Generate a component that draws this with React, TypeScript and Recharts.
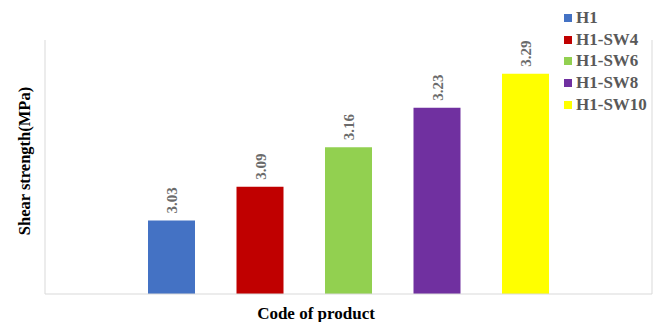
import React from "react";
import { BarChart, Bar, XAxis, YAxis, Legend, LabelList, CartesianGrid } from "recharts";

const categories = ["Code of product"];
const seriesNames = ["H1", "H1-SW4", "H1-SW6", "H1-SW8", "H1-SW10"];
const seriesValues = [3.03, 3.09, 3.16, 3.23, 3.29];
const seriesColors = ["#4472C4", "#C00000", "#92D050", "#7030A0", "#FFFF00"];
const yDomain = [2.9, 3.35];

const data = categories.map((name) => {
  const row: Record<string, string | number> = { name };
  seriesNames.forEach((s, i) => {
    row[s] = seriesValues[i];
  });
  return row;
});

const FONT = "'Liberation Serif', 'Times New Roman', serif";

const ValueLabel = (props: any) => {
  const { x, y, width, value } = props;
  const cx = x + width / 2 + 1;
  const ty = y - 7;
  return (
    <text
      x={cx}
      y={ty}
      transform={`rotate(-90, ${cx}, ${ty})`}
      textAnchor="start"
      dominantBaseline="central"
      fontFamily={FONT}
      fontWeight="bold"
      fontSize={15}
      fill="#6b6b6b"
    >
      {Number(value).toFixed(2)}
    </text>
  );
};

// keep legend entries in series order
const LegendList = (props: any) => {
  const { payload = [] } = props;
  const items = [...payload].sort(
    (a: any, b: any) => seriesNames.indexOf(a.value) - seriesNames.indexOf(b.value)
  );
  return (
    <div style={{ fontFamily: FONT, fontWeight: "bold", fontSize: 17, color: "#595959" }}>
      {items.map((p: any) => (
        <div key={p.value} style={{ display: "flex", alignItems: "center", height: 21.7 }}>
          <span style={{ width: 8, height: 8, background: p.color, marginRight: 4, display: "inline-block" }} />
          <span>{p.value}</span>
        </div>
      ))}
    </div>
  );
};

export default function App() {
  return (
    <div style={{ position: "absolute", left: 0, top: 0, background: "#fff" }}>
      <BarChart
        width={659}
        height={322}
        data={data}
        margin={{ top: 40, right: 7, bottom: 0, left: 0 }}
        barCategoryGap={103}
        barGap={41.5}
        barSize={47}
      >
        <CartesianGrid horizontal={false} verticalPoints={[652]} stroke="#d9d9d9" />
        <XAxis
          dataKey="name"
          tick={false}
          tickLine={false}
          axisLine={{ stroke: "#d9d9d9" }}
          height={28}
          label={{
            content: () => (
              <text x={316} y={313} textAnchor="middle" dominantBaseline="central" fontFamily={FONT} fontWeight="bold" fontSize={17} fill="#000">
                Code of product
              </text>
            ),
          }}
        />
        <YAxis
          domain={yDomain}
          allowDataOverflow
          tick={false}
          tickLine={false}
          axisLine={{ stroke: "#d9d9d9" }}
          width={45}
          label={{
            content: () => (
              <text
                x={24}
                y={161}
                transform="rotate(-90, 24, 161)"
                textAnchor="middle"
                dominantBaseline="central"
                fontFamily={FONT}
                fontWeight="bold"
                fontSize={16.5}
                fill="#000"
              >
                Shear strength(MPa)
              </text>
            ),
          }}
        />
        <Legend
          layout="vertical"
          align="center"
          verticalAlign="middle"
          content={<LegendList />}
          wrapperStyle={{ left: 564, top: 7, width: 95 }}
        />
        {seriesNames.map((s, i) => (
          <Bar key={s} dataKey={s} fill={seriesColors[i]} isAnimationActive={false}>
            <LabelList dataKey={s} content={<ValueLabel />} />
          </Bar>
        ))}
      </BarChart>
    </div>
  );
}
